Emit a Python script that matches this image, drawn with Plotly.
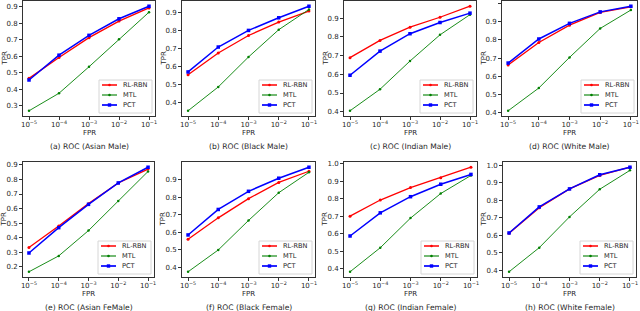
import plotly.graph_objects as go

fpr = [1e-5, 1e-4, 1e-3, 1e-2, 1e-1]
tick_text = ["10<sup>−5</sup>", "10<sup>−4</sup>", "10<sup>−3</sup>", "10<sup>−2</sup>", "10<sup>−1</sup>"]
series_names = ["RL-RBN", "MTL", "PCT"]
captions = ["(a) ROC (Asian Male)", "(b) ROC (Black Male)", "(c) ROC (Indian Male)", "(d) ROC (White Male)",
            "(e) ROC (Asian FeMale)", "(f) ROC (Black Female)", "(g) ROC (Indian Female)", "(h) ROC (White Female)"]

rlrbn_a = [0.466, 0.592, 0.712, 0.812, 0.892]
mtl_a = [0.270, 0.376, 0.536, 0.702, 0.866]
pct_a = [0.456, 0.606, 0.726, 0.826, 0.902]

rlrbn_b = [0.554, 0.674, 0.771, 0.845, 0.906]
mtl_b = [0.354, 0.486, 0.652, 0.803, 0.915]
pct_b = [0.569, 0.707, 0.799, 0.869, 0.933]

rlrbn_c = [0.689, 0.781, 0.852, 0.905, 0.964]
mtl_c = [0.405, 0.520, 0.671, 0.811, 0.919]
pct_c = [0.595, 0.724, 0.817, 0.877, 0.927]

rlrbn_d = [0.662, 0.786, 0.881, 0.951, 0.982]
mtl_d = [0.411, 0.536, 0.704, 0.863, 0.964]
pct_d = [0.673, 0.805, 0.891, 0.954, 0.985]

rlrbn_e = [0.333, 0.480, 0.634, 0.776, 0.871]
mtl_e = [0.166, 0.275, 0.449, 0.652, 0.855]
pct_e = [0.295, 0.469, 0.629, 0.776, 0.884]

rlrbn_f = [0.559, 0.682, 0.792, 0.885, 0.949]
mtl_f = [0.373, 0.498, 0.667, 0.826, 0.943]
pct_f = [0.584, 0.730, 0.834, 0.909, 0.972]

rlrbn_g = [0.700, 0.792, 0.863, 0.919, 0.979]
mtl_g = [0.383, 0.520, 0.689, 0.829, 0.932]
pct_g = [0.587, 0.719, 0.811, 0.882, 0.938]

rlrbn_h = [0.612, 0.758, 0.866, 0.943, 0.990]
mtl_h = [0.392, 0.530, 0.706, 0.864, 0.972]
pct_h = [0.614, 0.763, 0.866, 0.947, 0.990]

yticks_a = [0.3, 0.4, 0.5, 0.6, 0.7, 0.8, 0.9]
yticks_b = [0.4, 0.5, 0.6, 0.7, 0.8, 0.9]
yticks_c = [0.4, 0.5, 0.6, 0.7, 0.8, 0.9]
yticks_d = [0.4, 0.5, 0.6, 0.7, 0.8, 0.9, 1.0]
yticks_e = [0.2, 0.3, 0.4, 0.5, 0.6, 0.7, 0.8, 0.9]
yticks_f = [0.4, 0.5, 0.6, 0.7, 0.8, 0.9]
yticks_g = [0.4, 0.5, 0.6, 0.7, 0.8, 0.9, 1.0]
yticks_h = [0.4, 0.5, 0.6, 0.7, 0.8, 0.9, 1.0]

panels = [
    (rlrbn_a, mtl_a, pct_a, yticks_a), (rlrbn_b, mtl_b, pct_b, yticks_b),
    (rlrbn_c, mtl_c, pct_c, yticks_c), (rlrbn_d, mtl_d, pct_d, yticks_d),
    (rlrbn_e, mtl_e, pct_e, yticks_e), (rlrbn_f, mtl_f, pct_f, yticks_f),
    (rlrbn_g, mtl_g, pct_g, yticks_g), (rlrbn_h, mtl_h, pct_h, yticks_h),
]

W, H = 640, 311
xpix = [(23, 155), (182, 315), (344, 476), (502, 637),
        (23, 154), (182, 315), (344, 477), (503, 636)]
ypix_rows = [(1, 116), (162, 277)]

colors = ["#ff0000", "#008000", "#0000ff"]
widths = [1.3, 0.9, 1.5]
symbols = ["circle", "circle", "square"]
msizes = [3, 2.5, 3.5]

font = "DejaVu Sans"
TXT = "#262626"
TICK = 7
fig = go.Figure()
layout = dict(width=W, height=H, margin=dict(l=0, r=0, t=0, b=0),
              paper_bgcolor="white", plot_bgcolor="white", showlegend=False,
              font=dict(family=font, size=TICK, color=TXT))
annotations = []
shapes = []


def px(x):
    return x / W


def py(y):
    return 1 - y / H


for i, (rl, mt, pc, yt) in enumerate(panels):
    row = i // 4
    x0p, x1p = xpix[i]
    y0p, y1p = ypix_rows[row]
    xd = [px(x0p), px(x1p)]
    yd = [py(y1p), py(y0p)]
    sfx = "" if i == 0 else str(i + 1)
    allv = rl + mt + pc
    lo, hi = min(allv), max(allv)
    pad = 0.05 * (hi - lo)
    for k, vals in enumerate([rl, mt, pc]):
        fig.add_trace(go.Scatter(
            x=fpr, y=vals, mode="lines+markers", name=series_names[k],
            line=dict(color=colors[k], width=widths[k]),
            marker=dict(color=colors[k], size=msizes[k], symbol=symbols[k]),
            xaxis="x" + sfx, yaxis="y" + sfx))
    layout["xaxis" + sfx] = dict(
        domain=xd, anchor="y" + sfx, type="log", range=[-5.2, -0.8], automargin=False,
        tickvals=fpr, ticktext=tick_text, ticks="outside", ticklen=3, ticklabelstandoff=-1,
        tickcolor="#333", showline=True, linecolor="#333", linewidth=0.8,
        mirror=True, showgrid=False, zeroline=False,
        tickfont=dict(family=font, size=TICK, color=TXT))
    layout["yaxis" + sfx] = dict(
        domain=yd, anchor="x" + sfx, range=[lo - pad, hi + pad], automargin=False,
        tickvals=yt, ticktext=["%.1f" % v for v in yt], ticks="outside", ticklen=3,
        tickcolor="#333", showline=True, linecolor="#333", linewidth=0.8,
        mirror=True, showgrid=False, zeroline=False,
        tickfont=dict(family=font, size=TICK, color=TXT))

    # legend (drawn compactly, matplotlib style)
    bx1, by1 = x1p - 3, y1p - 3
    bx0, by0 = bx1 - 53, by1 - 33
    shapes.append(dict(type="rect", xref="paper", yref="paper",
                       x0=px(bx0), x1=px(bx1), y0=py(by1), y1=py(by0),
                       fillcolor="rgba(255,255,255,0.85)", line=dict(color="#d6d6d6", width=1)))
    for k in range(3):
        yy = by1 - 28 + k * 10
        shapes.append(dict(type="line", xref="paper", yref="paper",
                           x0=px(bx0 + 3), x1=px(bx0 + 18), y0=py(yy), y1=py(yy),
                           line=dict(color=colors[k], width=widths[k] + 0.2)))
        r = 1.3 if k < 2 else 1.7
        shapes.append(dict(type="rect" if k == 2 else "circle", xref="paper", yref="paper",
                           x0=px(bx0 + 10.5 - r), x1=px(bx0 + 10.5 + r),
                           y0=py(yy + r), y1=py(yy - r),
                           fillcolor=colors[k], line=dict(width=0)))
        annotations.append(dict(text=series_names[k], x=px(bx0 + 22), y=py(yy), xref="paper", yref="paper",
                                showarrow=False, xanchor="left", yanchor="middle",
                                font=dict(family=font, size=6.6, color=TXT)))

    cx = px((x0p + x1p) / 2)
    annotations.append(dict(text="FPR", x=cx, y=py(y1p + 16.5), xref="paper", yref="paper",
                            showarrow=False, font=dict(family=font, size=TICK, color=TXT),
                            xanchor="center", yanchor="middle"))
    annotations.append(dict(text=captions[i], x=cx, y=py(y1p + 30), xref="paper", yref="paper",
                            showarrow=False, font=dict(family=font, size=7.6, color=TXT),
                            xanchor="center", yanchor="middle"))
    annotations.append(dict(text="TPR", x=px(x0p - 19), y=(yd[0] + yd[1]) / 2, xref="paper", yref="paper",
                            showarrow=False, textangle=-90, font=dict(family=font, size=TICK, color=TXT),
                            xanchor="center", yanchor="middle"))

layout["annotations"] = annotations
layout["shapes"] = shapes
fig.update_layout(**layout)
fig.write_html("out.html", config={"displayModeBar": False},
               post_script="document.body.style.margin='0';document.body.style.overflow='hidden';")
